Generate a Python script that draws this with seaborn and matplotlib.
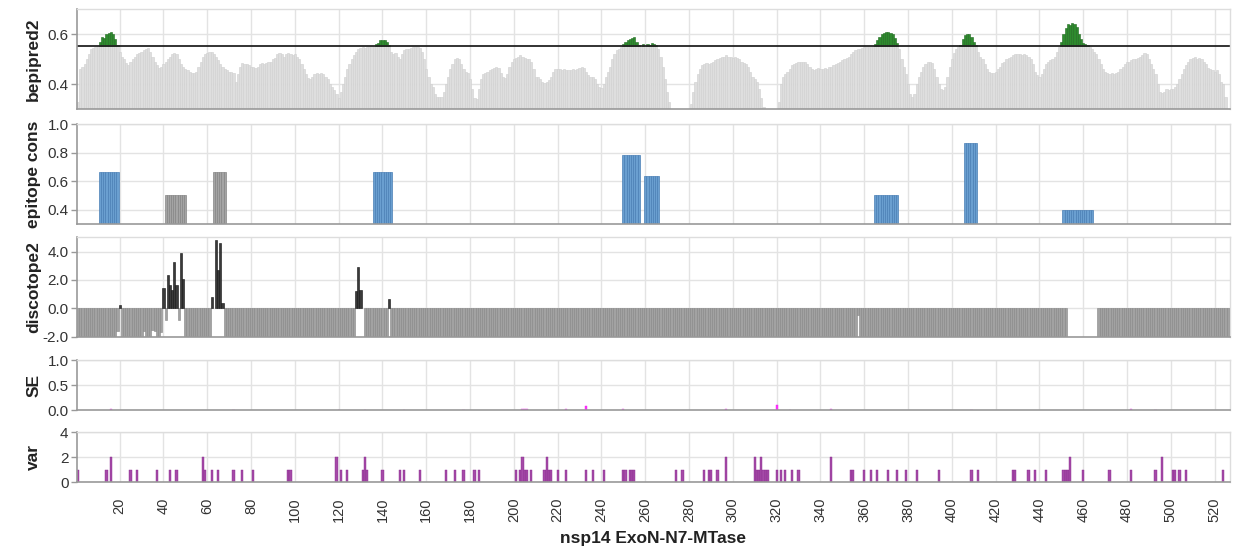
import numpy as np
import pandas as pd
import matplotlib.pyplot as plt
import seaborn as sns

# ---- data (nsp14, residues 1..527) ----
bepipred = [
    0.33, 0.46, 0.47, 0.48, 0.50, 0.52, 0.54, 0.545, 0.55, 0.553,
    0.57, 0.59, 0.585, 0.60, 0.605, 0.61, 0.60, 0.58, 0.555, 0.53,
    0.51, 0.50, 0.485, 0.475, 0.49, 0.50, 0.51, 0.52, 0.525, 0.53,
    0.535, 0.54, 0.545, 0.53, 0.51, 0.49, 0.475, 0.465, 0.47, 0.48,
    0.49, 0.50, 0.51, 0.52, 0.525, 0.52, 0.50, 0.48, 0.47, 0.46,
    0.455, 0.45, 0.445, 0.445, 0.45, 0.47, 0.49, 0.51, 0.52, 0.525,
    0.53, 0.53, 0.52, 0.51, 0.495, 0.48, 0.47, 0.46, 0.455, 0.45,
    0.45, 0.445, 0.41, 0.44, 0.47, 0.485, 0.48, 0.48, 0.475, 0.47,
    0.47, 0.465, 0.47, 0.48, 0.485, 0.48, 0.485, 0.49, 0.49, 0.50,
    0.505, 0.52, 0.525, 0.52, 0.51, 0.52, 0.525, 0.52, 0.515, 0.52,
    0.51, 0.50, 0.48, 0.46, 0.44, 0.425, 0.42, 0.43, 0.44, 0.445,
    0.44, 0.445, 0.44, 0.43, 0.42, 0.40, 0.39, 0.375, 0.36, 0.345,
    0.37, 0.40, 0.43, 0.46, 0.48, 0.50, 0.515, 0.53, 0.54, 0.545,
    0.55, 0.545, 0.55, 0.55, 0.552, 0.55, 0.56, 0.565, 0.575, 0.578,
    0.575, 0.57, 0.555, 0.53, 0.52, 0.525, 0.51, 0.50, 0.52, 0.535,
    0.54, 0.54, 0.545, 0.55, 0.55, 0.548, 0.545, 0.53, 0.50, 0.46,
    0.43, 0.40, 0.39, 0.36, 0.35, 0.35, 0.35, 0.37, 0.40, 0.43,
    0.46, 0.48, 0.50, 0.505, 0.50, 0.48, 0.46, 0.45, 0.445, 0.42,
    0.38, 0.345, 0.34, 0.38, 0.42, 0.44, 0.445, 0.45, 0.455, 0.46,
    0.465, 0.47, 0.465, 0.445, 0.43, 0.425, 0.44, 0.47, 0.49, 0.50,
    0.505, 0.51, 0.515, 0.51, 0.505, 0.50, 0.50, 0.49, 0.46, 0.43,
    0.43, 0.42, 0.41, 0.405, 0.41, 0.415, 0.43, 0.45, 0.46, 0.46,
    0.46, 0.455, 0.46, 0.455, 0.455, 0.455, 0.46, 0.455, 0.46, 0.465,
    0.47, 0.465, 0.45, 0.435, 0.43, 0.43, 0.42, 0.40, 0.39, 0.385,
    0.40, 0.43, 0.45, 0.47, 0.50, 0.52, 0.535, 0.54, 0.548, 0.56,
    0.57, 0.575, 0.58, 0.585, 0.59, 0.57, 0.555, 0.55, 0.56, 0.553,
    0.56, 0.558, 0.565, 0.56, 0.555, 0.54, 0.51, 0.47, 0.42, 0.37,
    0.33, 0.29, 0.28, 0.28, 0.28, 0.28, 0.28, 0.28, 0.28, 0.29,
    0.32, 0.37, 0.41, 0.44, 0.46, 0.475, 0.48, 0.485, 0.48, 0.485,
    0.49, 0.495, 0.50, 0.505, 0.51, 0.51, 0.515, 0.51, 0.51, 0.505,
    0.51, 0.505, 0.50, 0.49, 0.485, 0.48, 0.47, 0.45, 0.43, 0.42,
    0.41, 0.38, 0.345, 0.31, 0.29, 0.28, 0.28, 0.28, 0.28, 0.28,
    0.33, 0.40, 0.43, 0.44, 0.45, 0.46, 0.475, 0.48, 0.485, 0.49,
    0.49, 0.49, 0.49, 0.48, 0.47, 0.46, 0.455, 0.46, 0.465, 0.46,
    0.46, 0.465, 0.46, 0.47, 0.47, 0.475, 0.48, 0.485, 0.49, 0.495,
    0.50, 0.505, 0.51, 0.52, 0.53, 0.535, 0.54, 0.54, 0.545, 0.55,
    0.55, 0.55, 0.55, 0.552, 0.56, 0.575, 0.59, 0.60, 0.605, 0.61,
    0.61, 0.605, 0.60, 0.585, 0.565, 0.54, 0.50, 0.47, 0.44, 0.40,
    0.36, 0.35, 0.36, 0.40, 0.43, 0.45, 0.47, 0.48, 0.49, 0.49,
    0.485, 0.46, 0.43, 0.40, 0.38, 0.375, 0.39, 0.43, 0.47, 0.50,
    0.525, 0.54, 0.55, 0.555, 0.58, 0.595, 0.60, 0.60, 0.59, 0.57,
    0.555, 0.53, 0.51, 0.50, 0.48, 0.46, 0.45, 0.445, 0.445, 0.45,
    0.46, 0.47, 0.485, 0.49, 0.50, 0.505, 0.51, 0.515, 0.52, 0.52,
    0.52, 0.515, 0.52, 0.515, 0.51, 0.50, 0.48, 0.45, 0.435, 0.43,
    0.44, 0.46, 0.48, 0.49, 0.495, 0.50, 0.51, 0.53, 0.55, 0.57,
    0.60, 0.625, 0.64, 0.635, 0.645, 0.64, 0.63, 0.60, 0.58, 0.565,
    0.56, 0.555, 0.55, 0.54, 0.53, 0.52, 0.50, 0.48, 0.46, 0.45,
    0.445, 0.44, 0.445, 0.44, 0.445, 0.45, 0.46, 0.47, 0.48, 0.49,
    0.49, 0.495, 0.50, 0.50, 0.505, 0.51, 0.515, 0.525, 0.52, 0.50,
    0.48, 0.46, 0.44, 0.40, 0.37, 0.365, 0.37, 0.38, 0.375, 0.38,
    0.38, 0.39, 0.40, 0.42, 0.44, 0.46, 0.475, 0.49, 0.50, 0.505,
    0.51, 0.50, 0.505, 0.50, 0.49, 0.48, 0.465, 0.46, 0.455, 0.45,
    0.455, 0.44, 0.41, 0.40, 0.35, 0.30, 0.29,
]
bepi_threshold = 0.5536

# epitope conservation blocks (first residue, last residue, score, colour group)
epi_start = [11, 41, 63, 136, 250, 260, 365, 406, 451]
epi_end = [19, 50, 68, 144, 257, 266, 375, 411, 464]
epi_score = [0.667, 0.5, 0.667, 0.667, 0.786, 0.635, 0.5, 0.866, 0.4]
epi_group = ['blue', 'gray', 'gray', 'blue', 'blue', 'blue', 'blue', 'blue', 'blue']

# discotope2: residues whose score is readable (everything else sits below -2)
disco_res = [19, 20, 31, 35, 36, 39, 40, 41, 42, 43, 44, 45, 46, 47, 48, 49,
             62, 64, 65, 66, 67, 128, 129, 130, 143, 357]
disco_val = [-1.6, 0.24, -1.6, -1.5, -1.6, -1.7, 1.45, -0.8, 2.35, 1.65, 1.3, 3.3, 1.65, -0.8, 3.9, 2.1,
             0.8, 4.8, 2.7, 4.6, 0.35, 1.2, 2.95, 1.3, 0.66, -0.5]
disco_missing = [63, 131] + list(range(453, 467))
disco_clipped = -3.0

# surface exposure (SE), sparse
se_res = [16, 72, 120, 132, 150, 177, 204, 205, 206, 224, 233, 250, 297, 320, 326, 345, 409, 482, 493]
se_val = [0.02, 0.01, 0.01, 0.01, 0.01, 0.01, 0.03, 0.03, 0.02, 0.03, 0.09, 0.02, 0.03, 0.10, 0.01, 0.02, 0.01, 0.02, 0.01]

# variation counts, sparse
var_res = [1, 14, 16, 25, 28, 37, 43, 46, 58, 59, 62, 65, 72, 76, 81, 97, 98, 119, 121, 124,
           131, 132, 133, 140, 148, 150, 157, 169, 173, 177, 182, 184, 201, 203, 204, 205, 206,
           208, 214, 215, 216, 217, 220, 224, 233, 236, 241, 250, 251, 253, 254, 255, 274, 277,
           287, 289, 290, 293, 297, 310, 311, 312, 313, 314, 315, 316, 320, 322, 324, 327, 330,
           345, 354, 355, 360, 363, 366, 371, 375, 379, 384, 394, 409, 412, 428, 429, 435, 438,
           443, 451, 452, 453, 454, 460, 472, 482, 493, 496, 501, 502, 504, 507, 524]
var_two = [16, 58, 119, 132, 204, 215, 297, 310, 313, 345, 454, 496]

n_res = len(bepipred)
residues = np.arange(1, n_res + 1)

sns.set_theme(style="whitegrid")
plt.rcParams['font.family'] = ['Liberation Sans', 'DejaVu Sans']

fig = plt.figure(figsize=(12.35, 5.5), dpi=100)
left, width = 0.0623, 0.9336
rects = [(0.8018, 0.1818), (0.5927, 0.1818), (0.3878, 0.1818), (0.2545, 0.0909), (0.1231, 0.0909)]
axes = [fig.add_axes([left, b, width, h]) for b, h in rects]

grid_col = '#e3e3e3'
xticks = np.arange(20, 521, 20)


def style_axis(ax, ylabel, ylim, yticks, yfmt):
    ax.set_xlim(0.5, 527)
    ax.set_ylim(*ylim)
    ax.set_xticks(xticks)
    ax.set_yticks(yticks)
    ax.set_yticklabels([yfmt.format(t) for t in yticks], fontsize=11, color='#333333')
    ax.set_facecolor('white')
    ax.grid(True, color=grid_col, linewidth=1.0)
    ax.set_axisbelow(True)
    for side in ['top', 'right']:
        ax.spines[side].set_color('#dddddd')
        ax.spines[side].set_linewidth(1.0)
    for side in ['left', 'bottom']:
        ax.spines[side].set_color('#999999')
        ax.spines[side].set_linewidth(1.2)
    ax.tick_params(axis='y', length=4, width=1, color='#999999', pad=2, left=True)
    ax.tick_params(axis='x', length=0, labelbottom=False)
    ax.set_ylabel(ylabel, fontsize=12.5, fontweight='bold', color='#222222')
    ax.yaxis.set_label_coords(-0.031, 0.5)


# --- bepipred2 ---
ax = axes[0]
bepi = np.array(bepipred)
ax.bar(residues, np.minimum(bepi, bepi_threshold), width=1.0, color='#dedede',
       edgecolor='#cfcfcf', linewidth=0.4)
above = bepi > bepi_threshold
ax.bar(residues[above], bepi[above] - bepi_threshold, bottom=bepi_threshold, width=1.0,
       color='#2e8b2e', edgecolor='#1f6a1f', linewidth=0.4)
ax.axhline(bepi_threshold, color='#222222', linewidth=1.3)
style_axis(ax, 'bepipred2', (0.30, 0.70), [0.4, 0.6], '{:.1f}')

# --- epitope conservation ---
ax = axes[1]
epi_rows = []
for s, e, sc, g in zip(epi_start, epi_end, epi_score, epi_group):
    for r in range(s, e + 1):
        epi_rows.append((r, sc, g))
epi_df = pd.DataFrame(epi_rows, columns=['res', 'score', 'group'])
epi_colors = {'blue': ('#6a9fd0', '#4a7fb5'), 'gray': ('#a4a4a4', '#858585')}
for g, (fc, ec) in epi_colors.items():
    sub = epi_df[epi_df['group'] == g]
    ax.bar(sub['res'], sub['score'], width=1.0, color=fc, edgecolor=ec, linewidth=0.5)
style_axis(ax, 'epitope cons', (0.30, 1.0), [0.4, 0.6, 0.8, 1.0], '{:.1f}')

# --- discotope2 ---
ax = axes[2]
disco = np.full(n_res, disco_clipped)
disco[np.array(disco_res) - 1] = disco_val
disco[np.array(disco_missing) - 1] = np.nan
neg = disco < 0
pos = disco >= 0
ax.bar(residues[neg], disco[neg], width=1.0, color='#a2a2a2', edgecolor='#868686', linewidth=0.4)
ax.bar(residues[pos], disco[pos], width=1.0, color='#3a3a3a', edgecolor='#111111', linewidth=0.4)
style_axis(ax, 'discotope2', (-2.0, 5.05), [-2.0, 0.0, 2.0, 4.0], '{:.1f}')

# --- SE ---
ax = axes[3]
ax.bar(se_res, se_val, width=1.0, color='#ff33ff', edgecolor='#ee22ee', linewidth=0.3)
style_axis(ax, 'SE', (0.0, 1.0), [0.0, 0.5, 1.0], '{:.1f}')

# --- var ---
ax = axes[4]
var_val = [2 if r in var_two else 1 for r in var_res]
ax.bar(var_res, var_val, width=1.0, color='#a54aa8', edgecolor='#8a2a8e', linewidth=0.3)
style_axis(ax, 'var', (0, 4), [0, 2, 4], '{:d}')
ax.tick_params(axis='x', length=8, width=1, color='#999999', labelbottom=True,
               labelrotation=90, labelsize=10.5, labelcolor='#333333', pad=3)
ax.set_xticklabels([str(t) for t in xticks])
ax.set_xlabel('nsp14 ExoN-N7-MTase', fontsize=12.5, fontweight='bold', color='#222222', labelpad=6)

fig.savefig('out.png', dpi=100)
